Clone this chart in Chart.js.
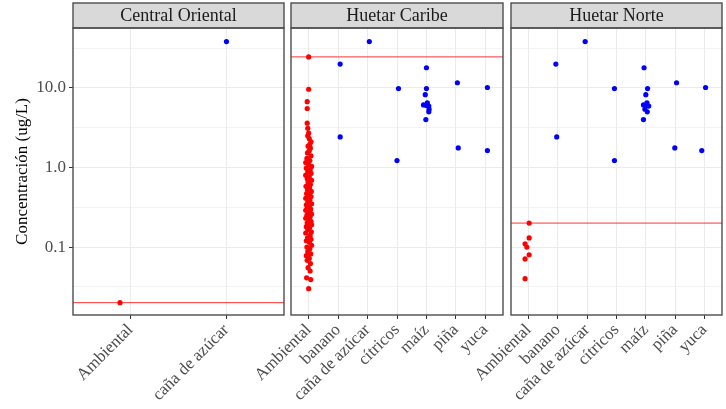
<!DOCTYPE html>
<html>
<head>
<meta charset="utf-8">
<script src="https://cdn.jsdelivr.net/npm/chart.js@4.4.1/dist/chart.umd.min.js"></script>
<style>
  body { margin: 0; background: #fff; }
  #wrap { position: relative; width: 726px; height: 409px; overflow: hidden; }
  canvas { position: absolute; top: 0; }
</style>
</head>
<body>
<div id="wrap">
  <canvas id="p1" width="290" height="409" style="left:0px"></canvas>
  <canvas id="p2" width="280" height="409" style="left:230px"></canvas>
  <canvas id="p3" width="276" height="409" style="left:450px"></canvas>
</div>
<script>
// panels and categories
const regions = ["Central Oriental", "Huetar Caribe", "Huetar Norte"];
const coCats = ["Ambiental", "caña de azúcar"];
const huetarCats = ["Ambiental", "banano", "caña de azúcar", "cítricos", "maíz", "piña", "yuca"];

// horizontal reference line per region (ug/L)
const thresholds = [0.02, 24.5, 0.2];

// y axis breaks (log10) and their labels
const yBreaks = [0.0316, 0.1, 0.316, 1, 3.16, 10, 31.6];
const yLabels = ["", "0.1", "", "1.0", "", "10.0", ""];

// Ambiental (red) values per region, with the horizontal jitter seen in the picture
const coAmbY = [0.02];
const coAmbJit = [-0.11];

const caribeAmbY = [24.5, 9.6, 6.7, 5.5, 3.6, 3.1, 2.7, 2.5, 2.3, 2.1, 1.95, 1.85, 1.75, 1.62, 1.52,
  1.4, 1.3, 1.22, 1.15, 1.08, 1.03, 0.98, 0.93, 0.88, 0.84, 0.8, 0.76, 0.72, 0.69, 0.65,
  0.61, 0.58, 0.55, 0.52, 0.5, 0.47, 0.45, 0.43, 0.41, 0.39, 0.37, 0.35, 0.34, 0.32, 0.31,
  0.3, 0.29, 0.28, 0.27, 0.26, 0.25, 0.24, 0.23, 0.22, 0.21, 0.2, 0.19, 0.18, 0.175, 0.165,
  0.155, 0.15, 0.14, 0.13, 0.125, 0.12, 0.115, 0.105, 0.1, 0.095, 0.088, 0.082, 0.078, 0.072,
  0.068, 0.062, 0.055, 0.05, 0.041, 0.039, 0.03];
const caribeAmbJit = [0, 0, -0.05, -0.05, -0.05, -0.03, 0, -0.03, 0.02, 0.08, 0.04, -0.02, 0.06, 0.02, -0.04,
  0.08, -0.06, 0.04, -0.1, 0, 0.1, -0.08, 0.05, -0.03, 0.08, -0.1, 0.02, -0.05, 0.1, -0.02,
  0.06, -0.09, 0.03, -0.04, 0.09, -0.07, 0.01, 0.08, -0.1, 0.04, -0.03, 0.1, -0.08, 0.02, -0.05,
  0.07, -0.1, 0.04, -0.02, 0.1, -0.06, 0.05, -0.1, 0, 0.08, -0.05, 0.1, -0.08, 0.03, -0.03,
  0.09, -0.1, 0.05, -0.04, 0.08, -0.08, 0.02, 0.1, -0.06, 0.04, -0.03, 0.07, -0.08, 0.02,
  -0.05, 0.06, -0.02, 0.05, -0.07, 0.07, 0];

const norteAmbY = [0.2, 0.13, 0.11, 0.1, 0.08, 0.071, 0.04];
const norteAmbJit = [0.02, 0.02, -0.12, -0.06, 0.02, -0.12, -0.12];

// crop (blue) values, same in both Huetar regions
const canaY = [38.2];
const bananoY = [19.9, 2.42];
const citricosY = [9.8, 1.22];
const maizY = [17.9, 9.8, 8.2, 6.5, 6.1, 6.0, 5.9, 5.4, 5.0, 4.0];
const pinaY = [11.6, 1.76];
const yucaY = [10.1, 1.63];

// jitter of the crop points, per region
const coCanaJit = [0];
const caribeJit = {
  banano: [0.07, 0.07], cana: [0.06], citricos: [0.05, 0],
  maiz: [0, 0, -0.04, 0.03, -0.1, 0, 0.08, 0.09, 0.08, -0.02], pina: [0.05, 0.08], yuca: [0.07, 0.07]
};
const norteJit = {
  banano: [-0.07, -0.04], cana: [-0.07], citricos: [-0.07, -0.07],
  maiz: [-0.06, 0.06, 0, 0.04, -0.08, 0.02, 0.1, -0.03, 0.05, -0.08], pina: [0.05, -0.01], yuca: [0.04, -0.09]
};

const serif = "'Liberation Serif', 'Times New Roman', serif";
const Y_MIN = 0.014, Y_MAX = 56.5;

function pts(catIndex, ys, jit) {
    return ys.map((y, i) => ({ x: catIndex + jit[i], y: y }));
}

const stripPlugin = {
    id: "strip",
    afterDraw(chart, args, opts) {
        const { ctx, chartArea: a } = chart;
        ctx.save();
        // strip
        ctx.fillStyle = "#d9d9d9";
        ctx.fillRect(a.left, 3, a.right - a.left, a.top - 3);
        ctx.strokeStyle = "#4d4d4d";
        ctx.lineWidth = 1.4;
        ctx.strokeRect(a.left, 3, a.right - a.left, a.top - 3);
        ctx.fillStyle = "#1a1a1a";
        ctx.font = "18px " + serif;
        ctx.textAlign = "center";
        ctx.textBaseline = "middle";
        ctx.fillText(opts.text, (a.left + a.right) / 2, (3 + a.top) / 2 + 1);
        // panel border
        ctx.strokeRect(a.left, a.top, a.right - a.left, a.bottom - a.top);
        ctx.restore();
    }
};

function makePanel(id, cats, title, datasets, thr, cfg) {
    const ctx = document.getElementById(id).getContext("2d");
    const xMax = cats.length - 0.4;
    datasets.push({
        type: "line",
        data: [{ x: -0.6, y: thr }, { x: xMax, y: thr }],
        borderColor: "rgba(255, 0, 0, 0.8)",
        borderWidth: 1,
        pointRadius: 0
    });
    return new Chart(ctx, {
        type: "scatter",
        data: { datasets: datasets },
        plugins: [stripPlugin],
        options: {
            responsive: false,
            animation: false,
            layout: { padding: { top: 28, left: cfg.padLeft, right: cfg.padRight, bottom: 0 } },
            plugins: {
                legend: { display: false },
                tooltip: { enabled: false },
                strip: { text: title }
            },
            scales: {
                x: {
                    type: "linear",
                    min: -0.6,
                    max: xMax,
                    afterBuildTicks: s => { s.ticks = cats.map((c, i) => ({ value: i })); },
                    afterFit: s => { s.height = 94; },
                    ticks: {
                        autoSkip: false,
                        minRotation: 45,
                        maxRotation: 45,
                        padding: 1,
                        color: "#4d4d4d",
                        font: { family: serif, size: 17 },
                        callback: v => cats[v]
                    },
                    grid: { color: "#ebebeb", lineWidth: 1, tickColor: "#333", tickLength: 4, tickWidth: 1 },
                    border: { display: false }
                },
                y: {
                    type: "logarithmic",
                    min: Y_MIN,
                    max: Y_MAX,
                    afterBuildTicks: s => { s.ticks = yBreaks.map(v => ({ value: v })); },
                    afterFit: s => { s.width = cfg.showY ? 73 : 0; },
                    ticks: {
                        display: cfg.showY,
                        autoSkip: false,
                        padding: 3,
                        color: "#4d4d4d",
                        font: { family: serif, size: 17 },
                        callback: (v, i) => yLabels[i]
                    },
                    grid: {
                        color: "#ebebeb",
                        lineWidth: c => (yLabels[c.index] ? 1 : 0.6),
                        drawTicks: cfg.showY,
                        tickLength: 4,
                        tickWidth: 1,
                        tickColor: c => (yLabels[c.index] ? "#333" : "rgba(0,0,0,0)")
                    },
                    border: { display: false },
                    title: {
                        display: cfg.showY,
                        text: "Concentración (ug/L)",
                        color: "#000",
                        font: { family: serif, size: 17 },
                        padding: { top: 12, bottom: 0 }
                    }
                }
            }
        }
    });
}

function red(data) {
    return { data: data, backgroundColor: "#ff0000", borderWidth: 0, pointRadius: 2.6 };
}
function blue(data) {
    return { data: data, backgroundColor: "#0000ff", borderWidth: 0, pointRadius: 2.6 };
}

function huetarSets(ambY, ambJit, jit) {
    const crops = [].concat(
        pts(1, bananoY, jit.banano),
        pts(2, canaY, jit.cana),
        pts(3, citricosY, jit.citricos),
        pts(4, maizY, jit.maiz),
        pts(5, pinaY, jit.pina),
        pts(6, yucaY, jit.yuca)
    );
    return [red(pts(0, ambY, ambJit)), blue(crops)];
}

makePanel("p1", coCats, regions[0],
    [red(pts(0, coAmbY, coAmbJit)), blue(pts(1, canaY, coCanaJit))],
    thresholds[0], { showY: true, padLeft: 0, padRight: 6 });

makePanel("p2", huetarCats, regions[1],
    huetarSets(caribeAmbY, caribeAmbJit, caribeJit),
    thresholds[1], { showY: false, padLeft: 61, padRight: 7 });

makePanel("p3", huetarCats, regions[2],
    huetarSets(norteAmbY, norteAmbJit, norteJit),
    thresholds[2], { showY: false, padLeft: 61, padRight: 4 });
</script>
</body>
</html>
